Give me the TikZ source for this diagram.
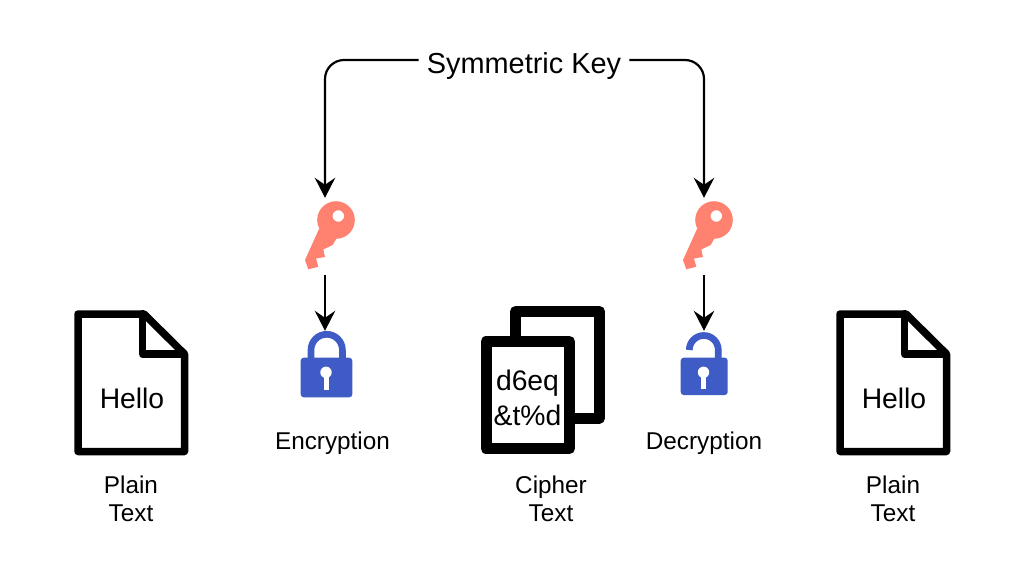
\documentclass[tikz,border=0pt]{standalone}
\usepackage{fontspec}
\setmainfont{Liberation Sans}
\usetikzlibrary{arrows.meta}
\definecolor{keycol}{HTML}{FF8270}
\definecolor{lockcol}{HTML}{3F5BC6}
\tikzset{
  conn/.style={draw=black,line width=2.2pt,-{Stealth[length=20pt,width=20.5pt,inset=7pt]}},
  docline/.style={draw=black,line width=7.5pt,line join=round,fill=white},
  stack/.style={draw=black,line width=11pt,line join=round,fill=white},
  lbl/.style={font=\fontsize{24.3}{28}\selectfont,align=center,inner sep=0pt},
  big/.style={font=\fontsize{28.3}{35}\selectfont,align=center,inner sep=0pt},
  anchorbox/.style={minimum width=30pt,inner sep=0pt}
}
\newcommand{\keyicon}[1]{%
  \begin{scope}[xshift=#1]
    \fill[keycol,even odd rule]
      (336,220) circle[radius=18.8pt] (338.3,216) circle[radius=5.8pt];
    \fill[keycol,line join=round] (319,229) -- (305,260) -- (308.3,269.3) -- (318.3,266.7)
      -- (316,258.5) -- (325,257) -- (323.3,249.5) -- (332.7,245) -- (340,232) -- cycle;
  \end{scope}}
\newcommand{\docicon}[1]{%
  \begin{scope}[xshift=#1]
    \path[docline] (78,314) -- (144,314) -- (184.5,354) -- (184.5,451.5) -- (78,451.5) -- cycle;
    \draw[docline,fill=none] (144,314) -- (142.5,314) -- (142.5,354) -- (184.5,354);
  \end{scope}}
\begin{document}
\begin{tikzpicture}[x=1pt,y=-1pt]
  \useasboundingbox[fill=white] (0,0) rectangle (1014,584);

  % documents
  \docicon{0pt}
  \docicon{762pt}
  \path[stack] (515.5,311.5) rectangle (599.5,418);
  \path[stack] (486,341.5) rectangle (569.5,448.5);

  % keys
  \keyicon{0pt}
  \keyicon{378pt}

  % closed lock
  \draw[lockcol,line width=6.7pt] (311,358) -- (311,350) arc[start angle=180,end angle=0,radius=15.7pt] -- (342.4,358);
  \fill[lockcol,rounded corners=3pt] (300.7,357.7) rectangle (352.3,397.3);
  \fill[white] (326,372.3) circle[radius=5.7pt];
  \fill[white] (323.5,373) rectangle (328.7,390);

  % open lock
  \draw[lockcol,line width=6.7pt] (689.3,350) arc[start angle=180,end angle=0,radius=14.5pt] -- (718.3,358);
  \fill[lockcol,rounded corners=3pt] (680.7,357.7) rectangle (727.7,395);
  \fill[white] (703.5,372.3) circle[radius=5.7pt];
  \fill[white] (701,373) rectangle (706,389.3);

  % named anchors around icons
  \node[anchorbox,minimum height=77pt] (keyA) at (325,236.5) {};
  \node[anchorbox,minimum height=77pt] (keyB) at (704,236.5) {};
  \node[anchorbox,minimum height=56pt] (lockA) at (325,359) {};
  \node[anchorbox,minimum height=56pt] (lockB) at (704,359) {};

  % texts
  \node[font=\fontsize{28.9}{34}\selectfont,inner sep=0pt,inner xsep=8pt] (sym) at (524,66) {Symmetric Key};
  \node[big] (helloA) at (132,398) {Hello};
  \node[big] (helloB) at (894,398) {Hello};
  \node[big] (cipher) at (527.5,398) {d6eq\\\&t\%d};
  \node[lbl] (enc) at (332.5,443) {Encryption};
  \node[lbl] (dec) at (704,443) {Decryption};
  \node[lbl] (plainA) at (131,499) {Plain\\Text};
  \node[lbl] (ciphT) at (551,499) {Cipher\\Text};
  \node[lbl] (plainB) at (893,499) {Plain\\Text};

  % connectors
  \draw[conn,rounded corners=19pt] ([yshift=6pt]sym.west) -| (keyA.north);
  \draw[conn,rounded corners=19pt] ([yshift=6pt]sym.east) -| (keyB.north);
  \draw[conn] (keyA.south) -- (lockA.north);
  \draw[conn] (keyB.south) -- (lockB.north);
\end{tikzpicture}
\end{document}
